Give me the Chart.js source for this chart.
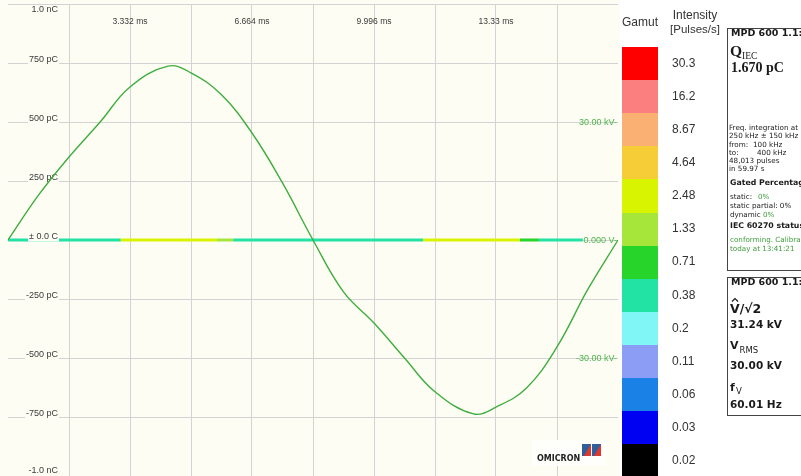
<!DOCTYPE html>
<html>
<head>
<meta charset="utf-8">
<script src="https://cdn.jsdelivr.net/npm/chart.js@4/dist/chart.umd.min.js"></script>
<style>
  html, body { margin: 0; padding: 0; background: #ffffff; overflow: hidden; }
  #wrap { position: relative; width: 801px; height: 476px; }
  canvas { display: block; }
</style>
</head>
<body>
<div id="wrap"><canvas id="prpd" width="801" height="476"></canvas></div>
<script>
// ---- Test voltage over one 60 Hz cycle (time in ms, voltage in kV) ----
const timeMs = [0, 0.833, 1.666, 2.499, 3.332, 4.37, 4.998, 5.831, 6.664, 7.497, 8.33,
                9.163, 9.996, 10.829, 11.662, 12.71, 13.328, 14.161, 14.994, 15.827, 16.66];
const voltageKV = [0, 11.4, 21.1, 29.8, 38.9, 44.2, 42.5, 36.9, 27.2, 14.5, 0,
                   -13.2, -21.1, -30.0, -38.6, -44.2, -42.5, -37.6, -27.2, -12.7, 0];

// ---- Partial discharge pulses near zero charge, binned by phase (ms) ----
const pdBinEdges = [0, 3.08, 5.71, 6.15, 11.34, 13.98, 14.5, 15.7];
const pdRate = [0.38, 2.48, 1.33, 0.38, 2.48, 0.71, 0.38];   // pulses/s per bin

// ---- Axis labelling ----
const chargeTicks = [1000, 750, 500, 250, 0, -250, -500, -750, -1000];
const chargeTickLabels = ['1.0 nC', '750 pC', '500 pC', '250 pC', '\u00b1 0.0 C', '-250 pC', '-500 pC', '-750 pC', '-1.0 nC'];
const timeTicks = [3.332, 6.664, 9.996, 13.328];
const timeTickLabels = ['3.332 ms', '6.664 ms', '9.996 ms', '13.33 ms'];
const voltageTicks = [30, 0, -30];
const voltageTickLabels = ['30.00 kV-', '0.000 V-', '-30.00 kV-'];

// ---- Intensity gamut (pulses/s) ----
const gamutLevels = [30.3, 16.2, 8.67, 4.64, 2.48, 1.33, 0.71, 0.38, 0.2, 0.11, 0.06, 0.03, 0.02];
const gamutColors = ['#ff0000', '#fb7f7f', '#fbb073', '#f6cd36', '#d8f400', '#a6e63a', '#27d42a',
                     '#22e2a4', '#80f6f6', '#8c9df5', '#1a82e6', '#0000f2', '#000000'];

// ---- Measurement readouts ----
const qIec = '1.670 pC';
const vPeakOverRoot2 = '31.24 kV';
const vRms = '30.00 kV';
const freqV = '60.01 Hz';

function gamutColorFor(rate) {
  for (let i = 0; i < gamutLevels.length; i++) {
    if (rate >= gamutLevels[i]) return gamutColors[i];
  }
  return gamutColors[gamutColors.length - 1];
}

const CREAM = '#fdfdf3';
const GRID = '#d3d3d3';

// page + plot backgrounds
const backgroundPlugin = {
  id: 'backgrounds',
  beforeDraw(chart) {
    const ctx = chart.ctx;
    ctx.save();
    ctx.fillStyle = '#ffffff';
    ctx.fillRect(0, 0, chart.width, chart.height);
    ctx.fillStyle = CREAM;
    ctx.fillRect(0, 0, 620, chart.height);
    ctx.restore();
  }
};

function drawChargeLabels(chart) {
  const ctx = chart.ctx;
  const y = chart.scales.y;
  ctx.save();
  ctx.font = '9px "Liberation Sans", Arial, sans-serif';
  ctx.textBaseline = 'middle';
  ctx.textAlign = 'right';
  chargeTicks.forEach((v, i) => {
    let cy = y.getPixelForValue(v) - 3;
    cy = Math.max(10, Math.min(471, cy));
    const label = chargeTickLabels[i];
    const w = ctx.measureText(label).width;
    ctx.fillStyle = CREAM;
    ctx.fillRect(58 - w - 1, cy - 4.5, w + 2, 9);
    ctx.fillStyle = '#3a3a3a';
    ctx.fillText(label, 58, cy);
  });
  ctx.restore();
}

// axis labels drawn inside the plot area
const axisLabelPlugin = {
  id: 'axisLabels',
  afterDatasetDraw(chart, args) {
    // charge labels sit above the pulse band but under the voltage trace
    if (args.meta.label === 'PD pulses') drawChargeLabels(chart);
  },
  afterDatasetsDraw(chart) {
    const ctx = chart.ctx;
    const x = chart.scales.x, yV = chart.scales.yV;
    ctx.save();
    ctx.textBaseline = 'middle';
    // time labels along the top
    ctx.textAlign = 'center';
    ctx.font = '8.5px "Liberation Sans", Arial, sans-serif';
    timeTicks.forEach((t, i) => {
      ctx.fillStyle = '#3a3a3a';
      ctx.fillText(timeTickLabels[i], x.getPixelForValue(t), 22);
    });
    // voltage labels on the right edge
    ctx.textAlign = 'right';
    ctx.font = '9px "Liberation Sans", Arial, sans-serif';
    voltageTicks.forEach((v, i) => {
      ctx.fillStyle = '#4cb54c';
      ctx.fillText(voltageTickLabels[i], 617, yV.getPixelForValue(v) + 0.5);
    });
    ctx.restore();
  }
};

// intensity gamut column
const gamutPlugin = {
  id: 'gamut',
  afterDraw(chart) {
    const ctx = chart.ctx;
    ctx.save();
    ctx.fillStyle = '#333333';
    ctx.font = '12px "Liberation Sans", Arial, sans-serif';
    ctx.textBaseline = 'middle';
    ctx.textAlign = 'center';
    ctx.fillText('Gamut', 640, 23);
    ctx.fillText('Intensity', 695, 16);
    ctx.font = '11.5px "Liberation Sans", Arial, sans-serif';
    ctx.fillText('[Pulses/s]', 695, 30);
    const top = 47, step = 33.1;
    ctx.font = '12px "Liberation Sans", Arial, sans-serif';
    ctx.textAlign = 'left';
    gamutLevels.forEach((lvl, i) => {
      const y0 = top + i * step;
      ctx.fillStyle = gamutColors[i];
      ctx.fillRect(622, Math.round(y0), 36, Math.round(y0 + step) - Math.round(y0));
      ctx.fillStyle = '#333333';
      ctx.fillText(String(lvl), 672, y0 + step / 2);
    });
    ctx.restore();
  }
};

// measurement info panels
const panelPlugin = {
  id: 'panels',
  afterDraw(chart) {
    const ctx = chart.ctx;
    ctx.save();
    ctx.fillStyle = '#ffffff';
    ctx.fillRect(727, 28, 80, 242);
    ctx.fillRect(727, 277, 80, 138);
    ctx.strokeStyle = '#444444';
    ctx.lineWidth = 1;
    ctx.strokeRect(727.5, 28.5, 80, 242);
    ctx.strokeRect(727.5, 277.5, 80, 138);

    ctx.textBaseline = 'middle';
    ctx.textAlign = 'left';
    const sans = '"DejaVu Sans", Verdana, sans-serif';
    const serif = '"Liberation Serif", "Times New Roman", serif';
    const ink = '#1a1a1a';
    const green = '#3d9e3d';

    // panel 1: charge
    ctx.fillStyle = ink;
    ctx.font = 'bold 9.5px ' + sans;
    ctx.fillText('MPD 600 1.1:', 731, 34);
    ctx.font = 'bold 15.5px ' + serif;
    ctx.fillText('Q', 730, 52);
    ctx.font = '9.5px ' + serif;
    ctx.fillText('IEC', 742, 56);
    ctx.font = 'bold 14px ' + serif;
    ctx.fillText(qIec, 731, 68);

    ctx.font = '7.2px ' + sans;
    ctx.fillText('Freq. integration at', 729, 128);
    ctx.fillText('250 kHz \u00b1 150 kHz', 729, 136.5);
    ctx.fillText('from:', 729, 145);
    ctx.fillText('100 kHz', 753, 145);
    ctx.fillText('to:', 729, 153);
    ctx.fillText('400 kHz', 757, 153);
    ctx.fillText('48,013 pulses', 729, 161);
    ctx.fillText('in 59.97 s', 729, 169);

    ctx.font = 'bold 7.8px ' + sans;
    ctx.fillText('Gated Percentage', 730, 183);
    ctx.font = '7.2px ' + sans;
    ctx.fillText('static:', 730, 197);
    ctx.fillText('static partial: 0%', 730, 206);
    ctx.fillText('dynamic', 730, 215);
    ctx.fillStyle = green;
    ctx.fillText('0%', 758, 197);
    ctx.fillText('0%', 763, 215);
    ctx.fillStyle = ink;
    ctx.font = 'bold 7.8px ' + sans;
    ctx.fillText('IEC 60270 status', 730, 226);
    ctx.fillStyle = green;
    ctx.font = '7.2px ' + sans;
    ctx.fillText('conforming. Calibrated', 730, 240);
    ctx.fillText('today at 13:41:21', 730, 249);

    // panel 2: voltage
    ctx.fillStyle = ink;
    ctx.font = 'bold 9.5px ' + sans;
    ctx.fillText('MPD 600 1.1:', 731, 283);
    ctx.font = 'bold 12.5px ' + sans;
    ctx.fillText('V/\u221a2', 730, 310);
    // circumflex over the V (peak value)
    ctx.strokeStyle = ink;
    ctx.lineWidth = 1.2;
    ctx.beginPath();
    ctx.moveTo(732, 301.5);
    ctx.lineTo(735, 298.5);
    ctx.lineTo(738, 301.5);
    ctx.stroke();
    ctx.font = 'bold 10.5px ' + sans;
    ctx.fillText(vPeakOverRoot2, 730, 325);
    ctx.font = 'bold 11px ' + sans;
    ctx.fillText('V', 730, 346);
    ctx.font = '8.5px ' + sans;
    ctx.fillText('RMS', 739.5, 351);
    ctx.font = 'bold 10.5px ' + sans;
    ctx.fillText(vRms, 730, 366);
    ctx.font = 'bold 11px ' + sans;
    ctx.fillText('f', 730, 388);
    ctx.font = '8.5px ' + sans;
    ctx.fillText('V', 736, 392);
    ctx.font = 'bold 10.5px ' + sans;
    ctx.fillText(freqV, 730, 405);
    ctx.restore();
  }
};

// vendor mark in the lower right of the plot
const logoPlugin = {
  id: 'logo',
  afterDraw(chart) {
    const ctx = chart.ctx;
    ctx.save();
    ctx.fillStyle = '#fefefb';
    ctx.fillRect(532, 440, 74, 26);
    ctx.fillStyle = '#222222';
    ctx.font = 'bold 8px "DejaVu Sans", Verdana, sans-serif';
    ctx.textBaseline = 'middle';
    ctx.textAlign = 'left';
    ctx.fillText('OMICRON', 537, 459);
    [582, 592].forEach(x0 => {
      ctx.fillStyle = '#2f5e9c';
      ctx.fillRect(x0, 444, 9, 12);
      ctx.fillStyle = '#e2362a';
      ctx.beginPath();
      ctx.moveTo(x0 + 2, 456);
      ctx.lineTo(x0 + 9, 444);
      ctx.lineTo(x0 + 9, 456);
      ctx.closePath();
      ctx.fill();
    });
    ctx.restore();
  }
};

const voltageData = timeMs.map((t, i) => ({ x: t, y: voltageKV[i] }));
const pdData = pdBinEdges.map(t => ({ x: t, y: 0 }));

new Chart(document.getElementById('prpd'), {
  type: 'line',
  data: {
    datasets: [
      {
        label: 'Voltage',
        data: voltageData,
        yAxisID: 'yV',
        borderColor: '#3fad3f',
        borderWidth: 1.4,
        pointRadius: 0,
        tension: 0.4,
        fill: false,
        order: 0
      },
      {
        label: 'PD pulses',
        data: pdData,
        yAxisID: 'y',
        borderWidth: 3,
        borderCapStyle: 'butt',
        pointRadius: 0,
        fill: false,
        segment: { borderColor: c => gamutColorFor(pdRate[c.p0DataIndex]) },
        order: 1
      }
    ]
  },
  options: {
    responsive: false,
    animation: false,
    devicePixelRatio: 1,
    layout: { padding: { left: 8, right: 183, top: 4, bottom: 0 } },
    plugins: { legend: { display: false }, tooltip: { enabled: false } },
    scales: {
      x: {
        type: 'linear', min: 0, max: 16.66,
        ticks: { display: false, stepSize: 1.666 },
        grid: {
          drawTicks: false,
          color: c => (c.index === 0 || c.tick.value > 16.6) ? 'rgba(0,0,0,0)' : GRID
        },
        border: { display: false }
      },
      y: {
        min: -1000, max: 1000,
        ticks: { display: false, stepSize: 250 },
        grid: { drawTicks: false, color: GRID },
        border: { display: false }
      },
      yV: { display: false, min: -60, max: 60 }
    }
  },
  plugins: [backgroundPlugin, axisLabelPlugin, gamutPlugin, panelPlugin, logoPlugin]
});
</script>
</body>
</html>
